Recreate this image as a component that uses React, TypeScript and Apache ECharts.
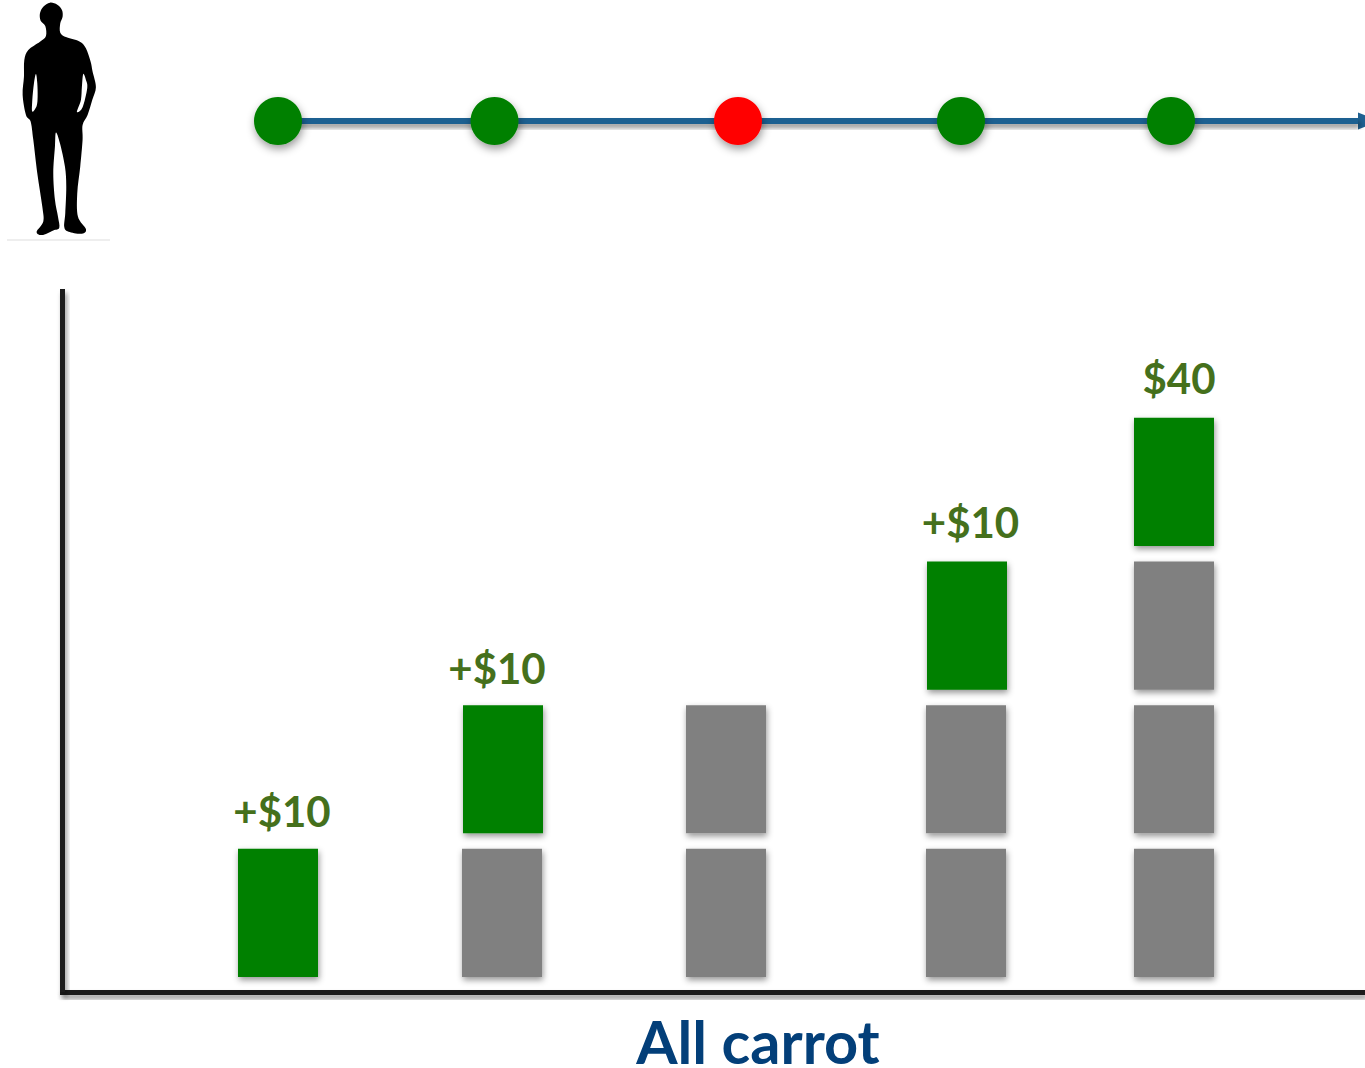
import React, { useEffect, useRef } from "react";
import * as echarts from "echarts";

// Positions along the shared horizontal scale (tens of pixels per unit).
const trialPositions = [27.8, 49.45, 73.8, 96.1, 117.1];
const trialOutcomes = ["reward", "reward", "none", "reward", "reward"];

// [position, stack base in dollars] for each block of a column.
const heldBlocks = [
  [50.2, 0],
  [72.6, 0],
  [72.6, 10],
  [96.6, 0],
  [96.6, 10],
  [117.4, 0],
  [117.4, 10],
  [117.4, 20],
];
const earnedBlocks = [
  [27.8, 0],
  [50.3, 10],
  [96.7, 20],
  [117.4, 30],
];

const blockValue = 10;
const labelPositions = [28.2, 49.7, 97.05, 117.9];
const labelTotals = [10, 20, 30, 40];
const labelTexts = ["+$10", "+$10", "+$10", "$40"];
const axisTitle = "All carrot";

const X_MIN = 6.25;
const X_MAX = 136.5;
const Y_MIN = -1.079;
const Y_MAX = 47.89;

const FONT = "Lato, Carlito, sans-serif";
const SHADOW = {
  shadowBlur: 6,
  shadowColor: "rgba(0,0,0,0.42)",
  shadowOffsetX: 1,
  shadowOffsetY: 3,
};
const AXIS_SHADOW = { ...SHADOW, shadowOffsetX: 2, shadowOffsetY: 4, shadowBlur: 5 };

// Outline points of the standing figure, joined by a smooth curve below.
const figureOutline = [
  [150, 8], [172, 14], [186, 30], [188, 50], [181, 70], [181, 98], [200, 112], [240, 125],
  [258, 145], [272, 185], [278, 215], [288, 262], [277, 300], [263, 345], [248, 375], [248, 420],
  [241, 500], [232, 580], [234, 650], [258, 688], [246, 702], [206, 696], [193, 682], [196, 640],
  [199, 560], [195, 500], [180, 430], [168, 398], [165, 440], [160, 520], [165, 600], [174, 650],
  [178, 684], [160, 692], [126, 706], [110, 696], [130, 665], [127, 620], [112, 520], [100, 420],
  [92, 365], [78, 345], [68, 285], [72, 230], [73, 180], [85, 150], [120, 125], [138, 108],
  [136, 78], [122, 62], [120, 40], [130, 20],
];
const figureGapLeft = [[108, 222], [102, 250], [97, 300], [97, 335], [110, 318], [113, 290], [112, 250]];
const figureGapRight = [[250, 222], [246, 260], [243, 300], [231, 336], [248, 322], [262, 264], [258, 240]];

function closedCurve(points: number[][]) {
  const n = points.length;
  let d = `M${points[0][0]} ${points[0][1]} `;
  for (let i = 0; i < n; i++) {
    const p0 = points[(i + n - 1) % n];
    const p1 = points[i];
    const p2 = points[(i + 1) % n];
    const p3 = points[(i + 2) % n];
    const c1 = [p1[0] + (p2[0] - p0[0]) / 6, p1[1] + (p2[1] - p0[1]) / 6];
    const c2 = [p2[0] - (p3[0] - p1[0]) / 6, p2[1] - (p3[1] - p1[1]) / 6];
    d += `C${c1[0]} ${c1[1]} ${c2[0]} ${c2[1]} ${p2[0]} ${p2[1]} `;
  }
  return d + "Z ";
}

echarts.graphic.registerShape(
  "standingFigure",
  echarts.graphic.extendPath(
    closedCurve(figureOutline) + closedCurve(figureGapLeft) + closedCurve(figureGapRight),
    {}
  )
);

function blockSeries(blocks: number[][], color: string) {
  return {
    type: "custom",
    xAxisIndex: 0,
    yAxisIndex: 0,
    z: 3,
    data: blocks,
    renderItem(_: unknown, api: any) {
      const x = api.value(0);
      const base = api.value(1);
      const [left, bottom] = api.coord([x - 4, base]);
      const [right, top] = api.coord([x + 4, base + blockValue]);
      return {
        type: "rect",
        shape: { x: left, y: top + 15.5, width: right - left, height: bottom - top - 15.5 },
        style: { fill: color, ...SHADOW },
      };
    },
  };
}

export default function App() {
  const ref = useRef<HTMLDivElement>(null);

  useEffect(() => {
    const chart = echarts.init(ref.current!, undefined, { renderer: "svg" });
    chart.setOption({
      animation: false,
      backgroundColor: "#ffffff",
      title: {
        text: axisTitle,
        left: 753,
        top: 1012,
        textAlign: "center",
        textStyle: {
          fontFamily: FONT,
          fontWeight: 700,
          fontSize: 59.5,
          lineHeight: 48,
          color: "#033f79",
        },
      },
      grid: [
        { left: 62.5, right: 0, top: 289, bottom: 75.5 },
        { left: 278, right: 0, top: 21, height: 200 },
      ],
      xAxis: [
        {
          type: "value",
          gridIndex: 0,
          min: X_MIN,
          max: X_MAX,
          splitLine: { show: false },
          axisTick: { show: false },
          axisLabel: { show: false },
          axisLine: {
            show: true,
            onZero: false,
            lineStyle: { color: "#1a1a1a", width: 5, cap: "butt" },
          },
        },
        {
          type: "value",
          gridIndex: 1,
          min: 27.8,
          max: X_MAX,
          splitLine: { show: false },
          axisTick: { show: false },
          axisLabel: { show: false },
          axisLine: {
            show: true,
            symbol: ["none", "triangle"],
            symbolSize: [17, 21],
            symbolOffset: [0, 3.5],
            lineStyle: { color: "#1f6191", width: 6, cap: "butt" },
          },
        },
      ],
      yAxis: [
        {
          type: "value",
          gridIndex: 0,
          min: Y_MIN,
          max: Y_MAX,
          splitLine: { show: false },
          axisTick: { show: false },
          axisLabel: { show: false },
          axisLine: {
            show: true,
            onZero: false,
            lineStyle: { color: "#1a1a1a", width: 5, cap: "butt" },
          },
        },
        {
          type: "value",
          gridIndex: 1,
          min: -1,
          max: 1,
          show: false,
        },
      ],
      series: [
        // Soft shadows under the chart axes, drawn as thin bands along the same scales.
        {
          type: "custom",
          xAxisIndex: 0,
          yAxisIndex: 0,
          z: 1,
          silent: true,
          data: [[0]],
          renderItem(_: unknown, api: any) {
            const [x0, y0] = api.coord([X_MIN, Y_MIN]);
            const [x1, y1] = api.coord([X_MAX, Y_MAX]);
            return {
              type: "group",
              children: [
                {
                  type: "rect",
                  shape: { x: x0 - 2.5, y: y0 - 2.5, width: x1 - x0 + 2.5, height: 5 },
                  style: { fill: "#1a1a1a", ...AXIS_SHADOW },
                },
                {
                  type: "rect",
                  shape: { x: x0 - 2.5, y: y1, width: 5, height: y0 - y1 },
                  style: { fill: "#1a1a1a", ...AXIS_SHADOW },
                },
              ],
            };
          },
        },
        // Shadow band of the timeline, from the first trial to the arrow head.
        {
          type: "custom",
          xAxisIndex: 1,
          yAxisIndex: 1,
          z: 1,
          silent: true,
          data: [[0]],
          renderItem(_: unknown, api: any) {
            const [x0, y0] = api.coord([27.8, 0]);
            const [x1] = api.coord([135.8, 0]);
            return {
              type: "rect",
              shape: { x: x0, y: y0 - 3, width: x1 - x0, height: 6 },
              style: { fill: "#1f6191", ...AXIS_SHADOW },
            };
          },
        },
        blockSeries(heldBlocks, "#808080"),
        blockSeries(earnedBlocks, "#008000"),
        {
          type: "scatter",
          xAxisIndex: 0,
          yAxisIndex: 0,
          symbolSize: 0,
          silent: true,
          itemStyle: { opacity: 1 },
          data: labelPositions.map((x, i) => ({
            value: [x, labelTotals[i]],
            label: {
              show: true,
              position: "inside",
              offset: [0, i < 2 ? -22 : -24],
              formatter: labelTexts[i],
              fontFamily: FONT,
              fontWeight: 700,
              fontSize: 42,
              color: "#45701c",
            },
          })),
        },
        {
          type: "scatter",
          xAxisIndex: 1,
          yAxisIndex: 1,
          clip: false,
          symbol: "circle",
          symbolSize: 48,
          z: 5,
          data: trialPositions.map((x, i) => ({
            value: [x, 0],
            itemStyle: {
              color: trialOutcomes[i] === "reward" ? "#008000" : "#ff0000",
              opacity: 1,
              shadowBlur: 8,
              shadowColor: "rgba(0,0,0,0.4)",
              shadowOffsetX: 1,
              shadowOffsetY: 4,
            },
          })),
        },
      ],
      graphic: [
        {
          type: "standingFigure",
          x: 0,
          y: 0,
          scaleX: 1 / 3,
          scaleY: 1 / 3,
          style: { fill: "#000000" },
        },
        {
          type: "line",
          shape: { x1: 7, y1: 240, x2: 110, y2: 240 },
          style: { stroke: "#dddddd", lineWidth: 1 },
        },
      ],
    });
    return () => chart.dispose();
  }, []);

  return (
    <div
      ref={ref}
      style={{ position: "fixed", left: 0, top: 0, width: 1365, height: 1068 }}
    />
  );
}
